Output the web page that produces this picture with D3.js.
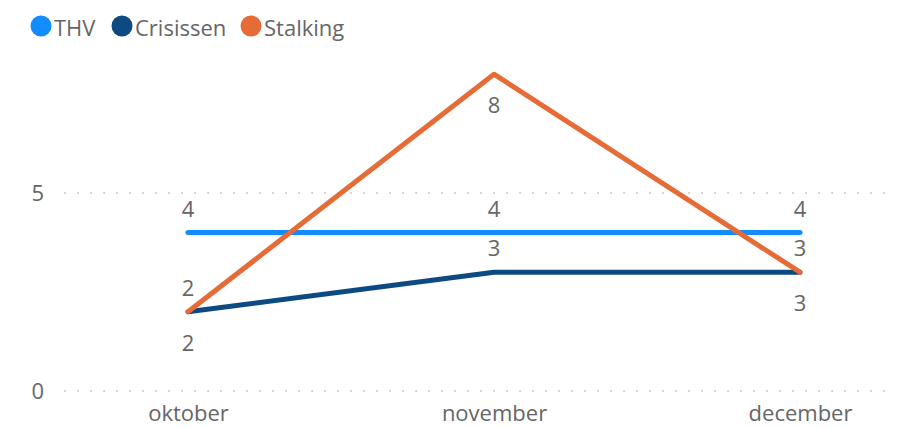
<!DOCTYPE html>
<html>
<head>
<meta charset="utf-8">
<script src="https://cdn.jsdelivr.net/npm/d3@7"></script>
<style>
  html, body { margin: 0; padding: 0; background: #fff; }
  svg text { font-family: "Segoe UI", "Open Sans", "Noto Sans", sans-serif; fill: #666; }
</style>
</head>
<body>
<svg id="chart" width="903" height="428"></svg>
<script>
// Monthly counts per category
const months = ["oktober", "november", "december"];
const thv = [4, 4, 4];
const crisissen = [2, 3, 3];
const stalking = [2, 8, 3];
const yTicks = [0, 5];

const seriesNames = ["THV", "Crisissen", "Stalking"];
const seriesColors = ["#118DFF", "#0E4A82", "#E66C37"];
// data labels: -1 above the point, +1 below
const labelSide = [-1, -1, 1];

const series = [thv, crisissen, stalking].map((values, i) => ({
  name: seriesNames[i], color: seriesColors[i], side: labelSide[i],
  points: values.map((v, j) => ({ month: months[j], value: v }))
}));

const FONT = 22;
const svg = d3.select("#chart");
const x = d3.scalePoint().domain(months).range([188, 800]);
const y = d3.scaleLinear().domain([0, 5]).range([391, 193]);

// dotted gridlines
svg.append("g").selectAll("line").data(yTicks).join("line")
  .attr("x1", 65).attr("x2", 893)
  .attr("y1", d => y(d)).attr("y2", d => y(d))
  .attr("stroke", "#cccccc").attr("stroke-width", 2)
  .attr("stroke-linecap", "round")
  .attr("stroke-dasharray", "0.1 12.9");

// y axis labels
const yAxis = d3.axisLeft(y).tickValues(yTicks).tickFormat(d3.format("d")).tickSize(0).tickPadding(0);
svg.append("g").attr("transform", "translate(44,0)").call(yAxis)
  .call(g => g.select(".domain").remove())
  .selectAll("text").attr("font-size", FONT).attr("fill", "#666");

// x axis labels
const xAxis = d3.axisBottom(x).tickSize(0).tickPadding(0);
svg.append("g").attr("transform", "translate(0,405)").call(xAxis)
  .call(g => g.select(".domain").remove())
  .selectAll("text").attr("font-size", FONT).attr("fill", "#666");

svg.selectAll(".tick text").style("font-family", '"Segoe UI", "Open Sans", "Noto Sans", sans-serif');

// lines
const line = d3.line().x(d => x(d.month)).y(d => y(d.value));
svg.append("g").selectAll("path").data(series).join("path")
  .attr("d", d => line(d.points))
  .attr("fill", "none")
  .attr("stroke", d => d.color)
  .attr("stroke-width", 5)
  .attr("stroke-linecap", "round")
  .attr("stroke-linejoin", "round");

// data labels
const lbl = svg.append("g");
series.forEach(s => {
  lbl.selectAll(null).data(s.points).join("text")
    .attr("x", d => x(d.month))
    .attr("y", d => y(d.value) + (s.side < 0 ? -25 : 30))
    .attr("text-anchor", "middle")
    .attr("dominant-baseline", "central")
    .attr("font-size", FONT)
    .text(d => d.value);
});

// legend
const legend = svg.append("g");
const legendX = [41, 122, 251];
seriesNames.forEach((name, i) => {
  legend.append("circle").attr("cx", legendX[i]).attr("cy", 26).attr("r", 10.5).attr("fill", seriesColors[i]);
  legend.append("text").attr("x", legendX[i] + 13).attr("y", 27)
    .attr("dominant-baseline", "central").attr("font-size", FONT).text(name);
});
</script>
</body>
</html>
